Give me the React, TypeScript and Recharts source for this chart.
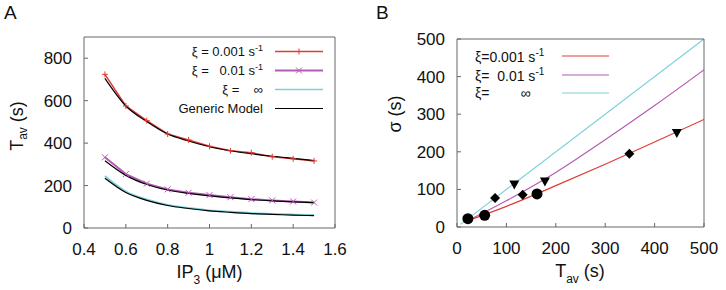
import React from "react";
import { ComposedChart, Line, Scatter, XAxis, YAxis, Legend, Label } from "recharts";

// panel A: mean period vs IP3
const ipValues = [0.5, 0.6, 0.7, 0.8, 0.9, 1.0, 1.1, 1.2, 1.3, 1.4, 1.5];
const tavSlow = [724, 575, 506, 443, 415, 385, 364, 355, 336, 326, 316];
const tavMid = [333, 254, 209, 182, 166, 155, 145, 136, 130, 125, 120];
const tavInf = [245, 172, 134, 108, 94, 83, 76, 70, 66, 63, 61];
const genHigh = [705, 575, 502, 443, 410, 383, 364, 350, 338, 328, 318];
const genMid = [317, 248, 205, 179, 163, 151, 142, 134, 128, 123, 119];
const genLow = [234, 167, 130, 106, 92, 81, 74, 68, 64, 61, 58];
const ipTicks = [0.4, 0.6, 0.8, 1, 1.2, 1.4, 1.6];
const tavTicks = [0, 200, 400, 600, 800];

// panel B: sigma vs Tav
const sigLineX = [20, 100, 200, 300, 400, 500];
const sigSlow = [16, 55, 110, 167, 226, 286];
const sigMid = [16, 70, 145, 232, 323, 418];
const sigInfX = [7, 500];
const sigInf = [7, 500];
const circlePts = [[22, 22], [56, 31], [162, 88]];
const diamondPts = [[77, 77], [133, 86], [349, 195]];
const trianglePts = [[116, 113], [178, 121], [445, 250]];
const sigTicks = [0, 100, 200, 300, 400, 500];

const RED = "#e03c36";
const PURPLE = "#b35db3";
const CYAN = "#7dd0da";
const BOX = "#666";
const FONT = "'Liberation Sans', Arial, sans-serif";
const TICK_LEN = 4;
const BOTTOM_GAP = 27; // axis line to label baseline
const LEFT_GAP = 12;

const zip = (xs: number[], ys: number[]) => xs.map((x, i) => ({ x, y: ys[i] }));
const pts = (arr: number[][]) => arr.map(([x, y]) => ({ x, y }));

// gnuplot-style ticks: drawn inward, on all four sides
const BottomTick = (p: any) => {
  const y0 = p.y - BOTTOM_GAP;
  return (
    <g>
      <line x1={p.x} x2={p.x} y1={y0} y2={y0 - TICK_LEN} stroke={BOX} />
      <text x={p.x} y={p.y} textAnchor="middle" fontSize={17} fontFamily={FONT} fill="#111">
        {p.payload.value}
      </text>
    </g>
  );
};
const LeftTick = (p: any) => {
  const x0 = p.x + LEFT_GAP;
  return (
    <g>
      <line x1={x0} x2={x0 + TICK_LEN} y1={p.y} y2={p.y} stroke={BOX} />
      <text x={p.x} y={p.y} dy={6} textAnchor="end" fontSize={17} fontFamily={FONT} fill="#111">
        {p.payload.value}
      </text>
    </g>
  );
};
const TopTick = (p: any) => <line x1={p.x} x2={p.x} y1={p.y} y2={p.y + TICK_LEN} stroke={BOX} />;
const RightTick = (p: any) => <line x1={p.x} x2={p.x - TICK_LEN} y1={p.y} y2={p.y} stroke={BOX} />;

const PlusDot = (p: any) => (
  <path key={p.index} d={`M${p.cx - 3},${p.cy}h6M${p.cx},${p.cy - 3}v6`} stroke={RED} strokeWidth={1} />
);
const CrossDot = (p: any) => (
  <path key={p.index} d={`M${p.cx - 3},${p.cy - 3}l6,6M${p.cx - 3},${p.cy + 3}l6,-6`} stroke={PURPLE} strokeWidth={1} />
);
const DiamondShape = (p: any) => (
  <path d={`M${p.cx},${p.cy - 5}L${p.cx + 5},${p.cy}L${p.cx},${p.cy + 5}L${p.cx - 5},${p.cy}Z`} fill="#000" />
);
const TriangleShape = (p: any) => (
  <path d={`M${p.cx - 5},${p.cy - 4}L${p.cx + 5},${p.cy - 4}L${p.cx},${p.cy + 5}Z`} fill="#000" />
);
const CircleShape = (p: any) => <circle cx={p.cx} cy={p.cy} r={5.5} fill="#000" />;

const Tav = () => (
  <>
    <tspan>T</tspan>
    <tspan dy={6} fontSize={12}>av</tspan>
    <tspan dy={-6}> (s)</tspan>
  </>
);

const legendA = [
  { text: "ξ = 0.001 s", sup: "-1", color: RED, width: 1.5, mark: "+" },
  { text: "ξ =   0.01 s", sup: "-1", color: PURPLE, width: 2, mark: "×" },
  { text: "ξ =    ∞", sup: "", color: CYAN, width: 1.5, mark: "" },
  { text: "Generic Model", sup: "", color: "#000", width: 1.2, mark: "" },
];

const legendB = [
  { text: "ξ=0.001 s", sup: "-1", color: RED },
  { text: "ξ=  0.01 s", sup: "-1", color: PURPLE },
  { text: "ξ=        ∞", sup: "", color: CYAN },
];

const LegendA = () => (
  <div style={{ fontFamily: FONT, fontSize: 13, color: "#111" }}>
    {legendA.map((r) => (
      <div key={r.text} style={{ display: "flex", alignItems: "center", height: 19 }}>
        <span style={{ width: 93, textAlign: "right", whiteSpace: "pre" }}>
          {r.text}
          {r.sup && <sup style={{ fontSize: 9 }}>{r.sup}</sup>}
        </span>
        <svg width={60} height={19} style={{ marginLeft: 12 }}>
          <line x1={0} x2={48} y1={9.5} y2={9.5} stroke={r.color} strokeWidth={r.width} />
          {r.mark === "+" && <path d="M21,9.5h6M24,6.5v6" stroke={RED} />}
          {r.mark === "×" && <path d="M21,6.5l6,6M21,12.5l6,-6" stroke={PURPLE} />}
        </svg>
      </div>
    ))}
  </div>
);

const LegendB = () => (
  <div style={{ fontFamily: FONT, fontSize: 14, color: "#111" }}>
    {legendB.map((r) => (
      <div key={r.text} style={{ display: "flex", alignItems: "center", height: 18.5 }}>
        <span style={{ width: 87, whiteSpace: "pre" }}>
          {r.text}
          {r.sup && <sup style={{ fontSize: 10 }}>{r.sup}</sup>}
        </span>
        <svg width={50} height={18}>
          <line x1={0} x2={47} y1={9} y2={9} stroke={r.color} strokeWidth={1.2} />
        </svg>
      </div>
    ))}
  </div>
);

function PanelA() {
  return (
    <ComposedChart width={363} height={290} margin={{ top: 36, right: 27, bottom: 32, left: 0 }}>
      <XAxis
        dataKey="x"
        type="number"
        domain={[0.4, 1.6]}
        ticks={ipTicks}
        interval={0}
        allowDataOverflow
        height={30}
        stroke={BOX}
        tickLine={false}
        tickSize={0}
        tickMargin={BOTTOM_GAP}
        tick={BottomTick}
      >
        <Label
          content={(props: any) => {
            const vb = props.viewBox;
            return (
              <text x={vb.x + vb.width / 2} y={278} textAnchor="middle" fontSize={18} fontFamily={FONT} fill="#111">
                <tspan>IP</tspan>
                <tspan dy={6} fontSize={12}>3</tspan>
                <tspan dy={-6}> (μM)</tspan>
              </text>
            );
          }}
        />
      </XAxis>
      <XAxis xAxisId="top" orientation="top" type="number" domain={[0.4, 1.6]} ticks={ipTicks} interval={0} height={1} stroke={BOX} tickLine={false} tickSize={0} tickMargin={0} tick={TopTick} />
      <YAxis
        type="number"
        domain={[0, 900]}
        ticks={tavTicks}
        interval={0}
        allowDataOverflow
        width={84}
        stroke={BOX}
        tickLine={false}
        tickSize={0}
        tickMargin={LEFT_GAP}
        tick={LeftTick}
      >
        <Label
          content={() => (
            <text x={17} y={126} transform="rotate(-90 17 126)" textAnchor="middle" dominantBaseline="central" fontSize={18} fontFamily={FONT} fill="#111">
              <Tav />
            </text>
          )}
        />
      </YAxis>
      <YAxis yAxisId="right" orientation="right" type="number" domain={[0, 900]} ticks={tavTicks} interval={0} width={1} stroke={BOX} tickLine={false} tickSize={0} tickMargin={0} tick={RightTick} />
      <Legend
        layout="vertical"
        align="center"
        verticalAlign="middle"
        wrapperStyle={{ left: 170, top: 42, width: 170 }}
        content={() => <LegendA />}
      />
      <Line data={zip(ipValues, tavInf)} dataKey="y" type="monotone" stroke={CYAN} strokeWidth={2} dot={false} isAnimationActive={false} />
      <Line data={zip(ipValues, tavMid)} dataKey="y" type="linear" stroke={PURPLE} strokeWidth={2} dot={CrossDot} isAnimationActive={false} />
      <Line data={zip(ipValues, tavSlow)} dataKey="y" type="linear" stroke={RED} strokeWidth={1.5} dot={PlusDot} isAnimationActive={false} />
      <Line data={zip(ipValues, genLow)} dataKey="y" type="monotone" stroke="#000" strokeWidth={1.2} dot={false} isAnimationActive={false} />
      <Line data={zip(ipValues, genMid)} dataKey="y" type="monotone" stroke="#000" strokeWidth={1.2} dot={false} isAnimationActive={false} />
      <Line data={zip(ipValues, genHigh)} dataKey="y" type="monotone" stroke="#000" strokeWidth={1.2} dot={false} isAnimationActive={false} />
    </ComposedChart>
  );
}

function PanelB() {
  return (
    <ComposedChart width={363} height={290} margin={{ top: 38, right: 21, bottom: 33, left: 0 }}>
      <XAxis
        dataKey="x"
        type="number"
        domain={[0, 500]}
        ticks={sigTicks}
        interval={0}
        allowDataOverflow
        height={30}
        stroke={BOX}
        tickLine={false}
        tickSize={0}
        tickMargin={BOTTOM_GAP}
        tick={BottomTick}
      >
        <Label
          content={() => (
            <text x={217} y={277} textAnchor="middle" fontSize={18} fontFamily={FONT} fill="#111">
              <Tav />
            </text>
          )}
        />
      </XAxis>
      <XAxis xAxisId="top" orientation="top" type="number" domain={[0, 500]} ticks={sigTicks} interval={0} height={1} stroke={BOX} tickLine={false} tickSize={0} tickMargin={0} tick={TopTick} />
      <YAxis
        type="number"
        domain={[0, 500]}
        ticks={sigTicks}
        interval={0}
        allowDataOverflow
        width={94}
        stroke={BOX}
        tickLine={false}
        tickSize={0}
        tickMargin={LEFT_GAP}
        tick={LeftTick}
      >
        <Label
          content={() => (
            <text x={32} y={114} transform="rotate(-90 32 114)" textAnchor="middle" dominantBaseline="central" fontSize={18} fontFamily={FONT} fill="#111">
              σ (s)
            </text>
          )}
        />
      </YAxis>
      <YAxis yAxisId="right" orientation="right" type="number" domain={[0, 500]} ticks={sigTicks} interval={0} width={1} stroke={BOX} tickLine={false} tickSize={0} tickMargin={0} tick={RightTick} />
      <Legend
        layout="vertical"
        align="center"
        verticalAlign="middle"
        wrapperStyle={{ left: 112, top: 47, width: 150 }}
        content={() => <LegendB />}
      />
      <Line data={zip(sigInfX, sigInf)} dataKey="y" type="linear" stroke={CYAN} strokeWidth={1.2} dot={false} isAnimationActive={false} />
      <Line data={zip(sigLineX, sigMid)} dataKey="y" type="monotone" stroke={PURPLE} strokeWidth={1.2} dot={false} isAnimationActive={false} />
      <Line data={zip(sigLineX, sigSlow)} dataKey="y" type="monotone" stroke={RED} strokeWidth={1.2} dot={false} isAnimationActive={false} />
      <Scatter data={pts(circlePts)} dataKey="y" shape={CircleShape} isAnimationActive={false} />
      <Scatter data={pts(diamondPts)} dataKey="y" shape={DiamondShape} isAnimationActive={false} />
      <Scatter data={pts(trianglePts)} dataKey="y" shape={TriangleShape} isAnimationActive={false} />
    </ComposedChart>
  );
}

export default function App() {
  const letter = { position: "absolute" as const, top: 2, fontSize: 19, fontFamily: FONT, color: "#111" };
  return (
    <div style={{ position: "absolute", left: 0, top: 0, width: 726, height: 290, background: "#fff" }}>
      <div style={{ position: "absolute", left: 0, top: 0 }}>
        <PanelA />
      </div>
      <div style={{ position: "absolute", left: 363, top: 0 }}>
        <PanelB />
      </div>
      <div style={{ ...letter, left: 4 }}>A</div>
      <div style={{ ...letter, left: 376 }}>B</div>
    </div>
  );
}
